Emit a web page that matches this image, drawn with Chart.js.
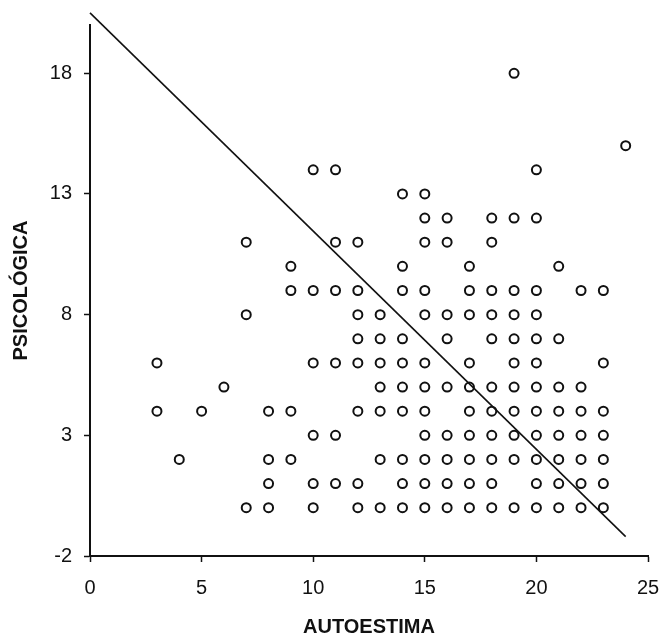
<!DOCTYPE html>
<html>
<head>
<meta charset="utf-8">
<script src="https://cdn.jsdelivr.net/npm/chart.js@4/dist/chart.umd.min.js"></script>
<style>
  html, body { margin: 0; padding: 0; background: #fff; }
  #wrap { width: 661px; height: 637px; }
</style>
</head>
<body>
<div id="wrap"><canvas id="scatterCanvas"></canvas></div>
<script>
// Each point: AUTOESTIMA (x) and PSICOLÓGICA (y), listed row by row
const autoestima = [
    7, 8, 10, 12, 13, 14, 15, 16, 17, 18, 19, 20, 21, 22, 23,   // y = 0
    8, 10, 11, 12, 14, 15, 16, 17, 18, 20, 21, 22, 23,          // y = 1
    4, 8, 9, 13, 14, 15, 16, 17, 18, 19, 20, 21, 22, 23,        // y = 2
    10, 11, 15, 16, 17, 18, 19, 20, 21, 22, 23,                 // y = 3
    3, 5, 8, 9, 12, 13, 14, 15, 17, 18, 19, 20, 21, 22, 23,     // y = 4
    6, 13, 14, 15, 16, 17, 18, 19, 20, 21, 22,                  // y = 5
    3, 10, 11, 12, 13, 14, 15, 17, 19, 20, 23,                  // y = 6
    12, 13, 14, 16, 18, 19, 20, 21,                             // y = 7
    7, 12, 13, 15, 16, 17, 18, 19, 20,                          // y = 8
    9, 10, 11, 12, 14, 15, 17, 18, 19, 20, 22, 23,              // y = 9
    9, 14, 17, 21,                                              // y = 10
    7, 11, 12, 15, 16, 18,                                      // y = 11
    15, 16, 18, 19, 20,                                         // y = 12
    14, 15,                                                     // y = 13
    10, 11, 20,                                                 // y = 14
    24,                                                         // y = 15
    19                                                          // y = 18
];
const psicologica = [
    0, 0, 0, 0, 0, 0, 0, 0, 0, 0, 0, 0, 0, 0, 0,
    1, 1, 1, 1, 1, 1, 1, 1, 1, 1, 1, 1, 1,
    2, 2, 2, 2, 2, 2, 2, 2, 2, 2, 2, 2, 2, 2,
    3, 3, 3, 3, 3, 3, 3, 3, 3, 3, 3,
    4, 4, 4, 4, 4, 4, 4, 4, 4, 4, 4, 4, 4, 4, 4,
    5, 5, 5, 5, 5, 5, 5, 5, 5, 5, 5,
    6, 6, 6, 6, 6, 6, 6, 6, 6, 6, 6,
    7, 7, 7, 7, 7, 7, 7, 7,
    8, 8, 8, 8, 8, 8, 8, 8, 8,
    9, 9, 9, 9, 9, 9, 9, 9, 9, 9, 9, 9,
    10, 10, 10, 10,
    11, 11, 11, 11, 11, 11,
    12, 12, 12, 12, 12,
    13, 13,
    14, 14, 14,
    15,
    18
];

// fitted line end points
const lineX = [0, 24];
const lineY = [20.5, -1.2];

const xTicks = [0, 5, 10, 15, 20, 25];
const yTicks = [-2, 3, 8, 13, 18];

const points = autoestima.map((x, i) => ({ x: x, y: psicologica[i] }));
const linePoints = lineX.map((x, i) => ({ x: x, y: lineY[i] }));

const tickFont = { family: 'Liberation Sans, Arial, sans-serif', size: 20 };
const titleFont = { family: 'Liberation Sans, Arial, sans-serif', size: 20, weight: 'bold', lineHeight: 1 };

const ctx = document.getElementById('scatterCanvas').getContext('2d');
new Chart(ctx, {
    type: 'scatter',
    data: {
        datasets: [{
            label: 'Puntos',
            data: points,
            pointStyle: 'circle',
            pointRadius: 4.5,
            pointBorderWidth: 2,
            borderColor: '#111',
            backgroundColor: '#fff',
            order: 2
        }, {
            label: 'Recta',
            data: linePoints,
            showLine: true,
            pointRadius: 0,
            borderColor: '#111',
            borderWidth: 1.6,
            clip: false,
            order: 1
        }]
    },
    options: {
        responsive: true,
        maintainAspectRatio: false,
        animation: false,
        events: [],
        layout: {
            padding: { top: 25, right: 0, bottom: 0, left: 0 }
        },
        scales: {
            x: {
                type: 'linear',
                min: 0,
                max: 25,
                afterBuildTicks: function(scale) {
                    scale.ticks = xTicks.map(v => ({ value: v }));
                },
                afterFit: function(scale) {
                    scale.height = 81;
                    scale.paddingLeft = 0;
                    scale.paddingRight = 13;
                },
                grid: {
                    drawOnChartArea: false,
                    drawTicks: true,
                    tickLength: 6,
                    tickWidth: 1.5,
                    tickColor: '#111'
                },
                border: { display: true, color: '#111', width: 2 },
                ticks: {
                    color: '#111',
                    font: tickFont,
                    padding: 14,
                    maxRotation: 0
                },
                title: {
                    display: true,
                    text: 'AUTOESTIMA',
                    color: '#111',
                    font: titleFont,
                    padding: { top: 0, bottom: 0 }
                }
            },
            y: {
                type: 'linear',
                min: -2,
                max: 20,
                afterBuildTicks: function(scale) {
                    scale.ticks = yTicks.map(v => ({ value: v }));
                },
                afterFit: function(scale) {
                    scale.width = 90;
                    scale.paddingTop = 0;
                    scale.paddingBottom = 0;
                },
                grid: {
                    drawOnChartArea: false,
                    drawTicks: true,
                    tickLength: 6,
                    tickWidth: 1.5,
                    tickColor: '#111'
                },
                border: { display: true, color: '#111', width: 2 },
                ticks: {
                    color: '#111',
                    font: tickFont,
                    padding: 12
                },
                title: {
                    display: true,
                    text: 'PSICOLÓGICA',
                    color: '#111',
                    font: titleFont,
                    padding: { top: 11, bottom: 0 }
                }
            }
        },
        plugins: {
            legend: { display: false },
            tooltip: { enabled: false }
        }
    }
});
</script>
</body>
</html>
